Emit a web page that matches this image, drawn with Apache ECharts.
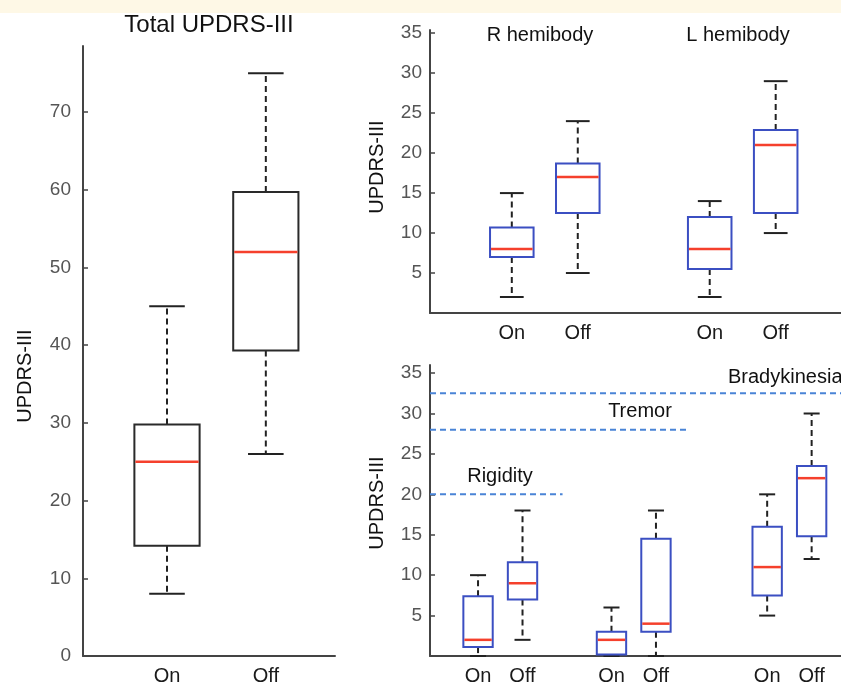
<!DOCTYPE html>
<html><head><meta charset="utf-8">
<script src="https://cdn.jsdelivr.net/npm/echarts@6/dist/echarts.min.js"></script>
<style>html,body{margin:0;padding:0;background:#fff}#c{width:841px;height:686px}</style>
</head><body><div id="c"></div>
<script>
// ---- data ----
const totalLabels = ['On', 'Off'];
const totalPos = [1, 2];
// [low whisker, Q1, median, Q3, high whisker]
const totalStats = [
  [8, 14.2, 25, 29.8, 45],
  [26, 39.3, 52, 59.7, 75]
];
const totalTicks = [0, 10, 20, 30, 40, 50, 60, 70];

const hemiGroups = ['R hemibody', 'L hemibody'];
const hemiLabels = ['On', 'Off', 'On', 'Off'];
const hemiPos = [1, 2, 4, 5];
const hemiStats = [
  [2, 7, 8, 10.7, 15],
  [5, 12.5, 17, 18.7, 24],
  [2, 5.5, 8, 12, 14],
  [10, 12.5, 21, 22.9, 29]
];
const subTicks = [5, 10, 15, 20, 25, 30, 35];

const sympLabels = ['On', 'Off', 'On', 'Off', 'On', 'Off'];
const sympPos = [1, 2, 4, 5, 7.5, 8.5];
const sympStats = [
  [0, 1.1, 2, 7.4, 10],
  [2, 7, 9, 11.6, 18],
  [0, 0.2, 2, 3, 6],
  [0, 3, 4, 14.5, 18],
  [5, 7.5, 11, 16, 20],
  [12, 14.8, 22, 23.5, 30]
];
const refNames = ['Rigidity', 'Tremor', 'Bradykinesia'];
const refValues = [20, 28, 32.5];
const refEnds = [2.9, 5.75, 9.2];

// ---- styles ----
const FONT = '"Liberation Sans", Arial, sans-serif';
const AXIS_COLOR = '#444';
const BLUE = '#3b4fc2';
const RED = '#f5402c';
const BOX_W = 0.66, CAP_W = 0.36;

function boxRender(boxColor) {
  return function (params, api) {
    const x = api.value(0);
    const low = api.coord([x, api.value(1)]);
    const q1 = api.coord([x, api.value(2)]);
    const med = api.coord([x, api.value(3)]);
    const q3 = api.coord([x, api.value(4)]);
    const high = api.coord([x, api.value(5)]);
    const bw = api.size([BOX_W, 0])[0];
    const cw = api.size([CAP_W, 0])[0];
    const cx = low[0];
    const dash = { stroke: '#222', lineWidth: 2, lineDash: [6, 4] };
    const solid = { stroke: '#222', lineWidth: 2 };
    return {
      type: 'group',
      children: [
        { type: 'line', shape: { x1: cx, y1: q3[1], x2: cx, y2: high[1] }, style: dash },
        { type: 'line', shape: { x1: cx, y1: q1[1], x2: cx, y2: low[1] }, style: dash },
        { type: 'line', shape: { x1: cx - cw / 2, y1: high[1], x2: cx + cw / 2, y2: high[1] }, style: solid },
        { type: 'line', shape: { x1: cx - cw / 2, y1: low[1], x2: cx + cw / 2, y2: low[1] }, style: solid },
        { type: 'rect', shape: { x: cx - bw / 2, y: q3[1], width: bw, height: q1[1] - q3[1] },
          style: { fill: '#fff', stroke: boxColor, lineWidth: 2 } },
        { type: 'line', shape: { x1: cx - bw / 2 + 1, y1: med[1], x2: cx + bw / 2 - 1, y2: med[1] },
          style: { stroke: RED, lineWidth: 2.5 } }
      ]
    };
  };
}

function yAxis(idx, max, ticks, margin) {
  return {
    type: 'value', gridIndex: idx, min: 0, max: max,
    splitLine: { show: false },
    axisLine: { show: true, onZero: false, lineStyle: { color: AXIS_COLOR, width: 2 } },
    axisTick: { show: true, inside: true, length: 5, customValues: ticks, lineStyle: { color: AXIS_COLOR, width: 1.5 } },
    axisLabel: { customValues: ticks, margin: margin, color: '#555', fontSize: 19, fontFamily: FONT }
  };
}
function xAxis(idx, min, max, pos, labels) {
  return {
    type: 'value', gridIndex: idx, min: min, max: max,
    splitLine: { show: false },
    axisLine: { show: true, onZero: false, lineStyle: { color: AXIS_COLOR, width: 2 } },
    axisTick: { show: false },
    axisLabel: {
      customValues: pos, margin: 10, color: '#1a1a1a', fontSize: 20, fontFamily: FONT,
      formatter: function (v) { const i = pos.indexOf(v); return i >= 0 ? labels[i] : ''; }
    }
  };
}
function boxData(pos, stats) { return pos.map((p, i) => [p].concat(stats[i])); }

const series = [
  { type: 'custom', xAxisIndex: 0, yAxisIndex: 0, renderItem: boxRender('#2a2a2a'),
    encode: { x: 0, y: [1, 2, 3, 4, 5] }, data: boxData(totalPos, totalStats), silent: true },
  { type: 'custom', xAxisIndex: 1, yAxisIndex: 1, renderItem: boxRender(BLUE),
    encode: { x: 0, y: [1, 2, 3, 4, 5] }, data: boxData(hemiPos, hemiStats), silent: true },
  { type: 'custom', xAxisIndex: 2, yAxisIndex: 2, renderItem: boxRender(BLUE),
    encode: { x: 0, y: [1, 2, 3, 4, 5] }, data: boxData(sympPos, sympStats), silent: true }
];
refValues.forEach(function (v, i) {
  series.push({
    type: 'line', xAxisIndex: 2, yAxisIndex: 2, symbol: 'none', silent: true, z: 1,
    lineStyle: { color: '#4a84d6', width: 2, type: [6, 4] },
    data: [[-0.08, v], [refEnds[i], v]]
  });
});

const txt = (text, x, y, size, extra) => Object.assign({
  type: 'text', x: x, y: y, silent: true,
  style: { text: text, fontSize: size, fontFamily: FONT, fill: '#111', align: 'center', verticalAlign: 'middle' }
}, extra || {});

const option = {
  animation: false,
  backgroundColor: '#fff',
  grid: [
    { left: 83, top: 46, width: 252, height: 614 },
    { left: 430, top: 30, width: 411, height: 283 },
    { left: 430, top: 365, width: 411, height: 297 }
  ],
  xAxis: [
    xAxis(0, 0.15, 2.7, totalPos, totalLabels),
    xAxis(1, -0.24, 5.99, hemiPos, hemiLabels),
    xAxis(2, -0.08, 9.16, sympPos, sympLabels)
  ],
  yAxis: [
    yAxis(0, 78.5, totalTicks, 12),
    yAxis(1, 35.4, subTicks, 8),
    yAxis(2, 36, subTicks, 8)
  ],
  series: series,
  graphic: [
    { type: 'rect', shape: { x: 0, y: 0, width: 841, height: 13 }, style: { fill: '#fef8e6' }, silent: true },
    txt('Total UPDRS-III', 209, 25, 24),
    txt(hemiGroups[0], 540, 35, 20),
    txt(hemiGroups[1], 738, 35, 20),
    txt('UPDRS-III', 25, 376, 20, { rotation: Math.PI / 2 }),
    txt('UPDRS-III', 377, 167, 20, { rotation: Math.PI / 2 }),
    txt('UPDRS-III', 377, 503, 20, { rotation: Math.PI / 2 }),
    txt(refNames[0], 500, 476, 20),
    txt(refNames[1], 640, 411, 20),
    { type: 'text', x: 728, y: 377, silent: true,
      style: { text: refNames[2], fontSize: 20, fontFamily: FONT, fill: '#111', align: 'left', verticalAlign: 'middle' } }
  ]
};
const chart = echarts.init(document.getElementById('c'), null, { renderer: 'canvas' });
chart.setOption(option);
</script>
</body></html>
